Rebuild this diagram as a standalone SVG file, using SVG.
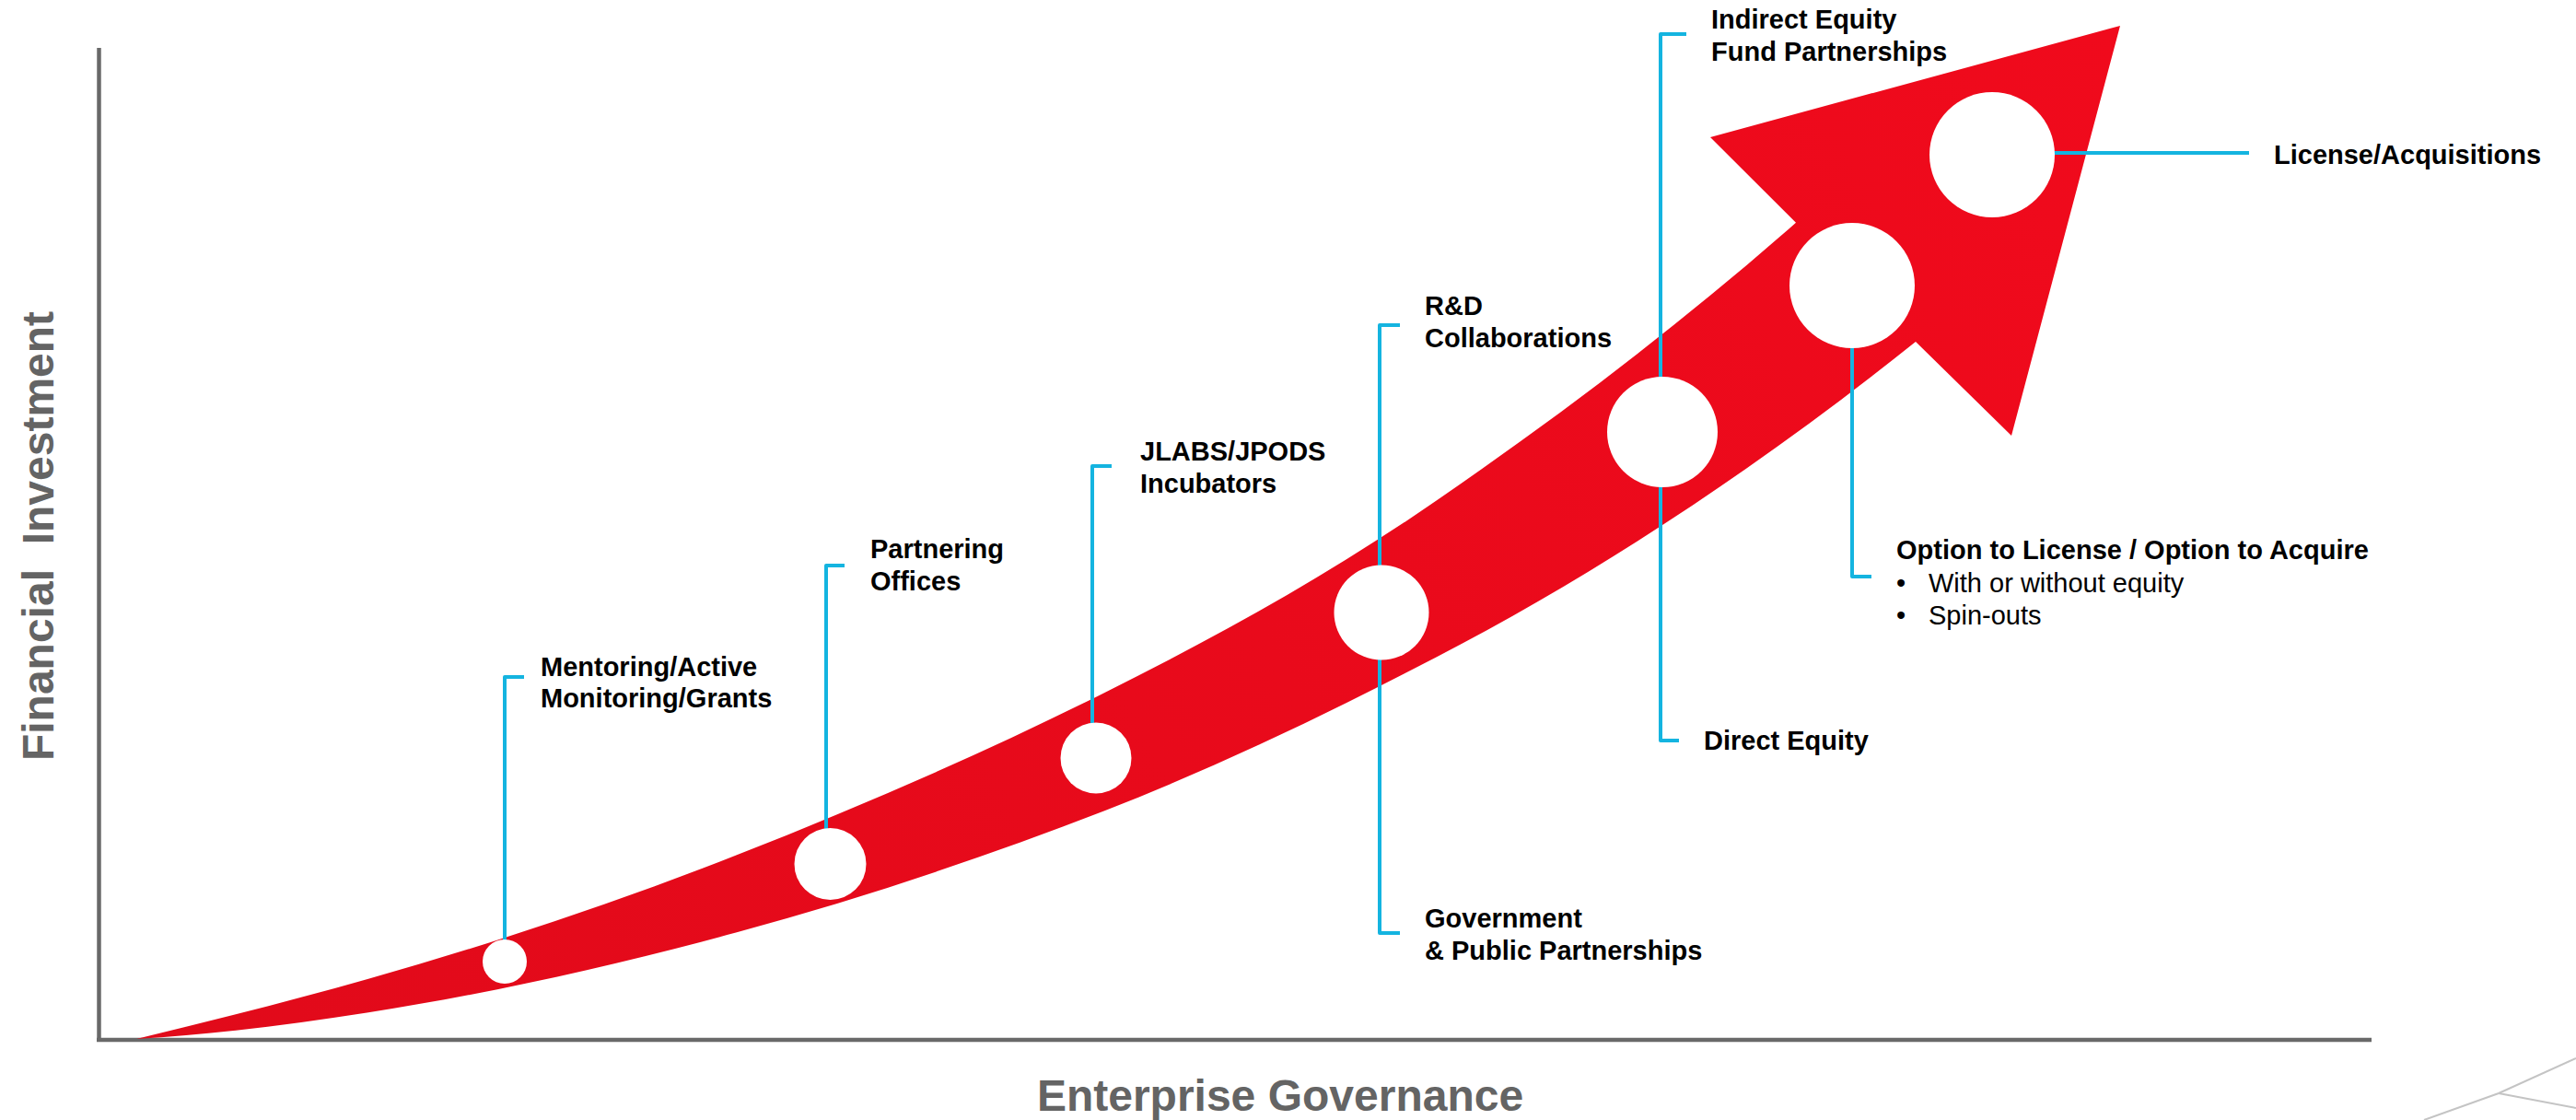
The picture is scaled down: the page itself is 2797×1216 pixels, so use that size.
<svg xmlns="http://www.w3.org/2000/svg" width="2797" height="1216" viewBox="0 0 2797 1216">
<defs>
<linearGradient id="redGrad" gradientUnits="userSpaceOnUse" x1="148" y1="1128" x2="2302" y2="28">
<stop offset="0" stop-color="#e10a1a"/>
<stop offset="1" stop-color="#f00a1c"/>
</linearGradient>
<style>
.lbl{font-family:"Liberation Sans",Arial,sans-serif;font-size:29px;font-weight:bold;fill:#000}
.reg{font-family:"Liberation Sans",Arial,sans-serif;font-size:29px;font-weight:normal;fill:#000}
.axt{font-family:"Liberation Sans",Arial,sans-serif;font-size:48px;font-weight:bold;fill:#646464}
.axis{stroke:#696969;stroke-width:4.5;fill:none}
.lead{stroke:#14b4e0;stroke-width:4;fill:none;stroke-linejoin:round;stroke-linecap:butt}
.dot{fill:#fff}
.deco{stroke:#c4c4c4;stroke-width:2;fill:none}
</style>
</defs>
<rect width="2797" height="1216" fill="#fff"/>
<g id="axes">
<line class="axis" x1="107.5" y1="52" x2="107.5" y2="1131"/>
<line class="axis" x1="105" y1="1129" x2="2575" y2="1129"/>
<text class="axt" xml:space="preserve" transform="translate(58,582) rotate(-90)" text-anchor="middle">Financial  Investment</text>
<text class="axt" x="1390" y="1206" text-anchor="middle">Enterprise Governance</text>
</g>
<g id="deco">
<polyline class="deco" points="2632,1216 2713,1187 2797,1149"/>
<line class="deco" x1="2713" y1="1187" x2="2797" y2="1203"/>
</g>
<g id="arrow">
<path fill="url(#redGrad)" d="M148,1128 C232,1107.8 316,1086.5 400,1062.7 C533.3,1025 666.7,980.6 800,928.3 C933.3,876 1066.7,818.4 1200,751.7 C1320,691.7 1440,626.1 1560,543.3 C1690,453.6 1820,356.1 1950,241.7 L1857,149 L2302,28 L2184,473 L2080,371 C1906.7,509.6 1733.3,623.2 1560,713.3 C1440,775.7 1320,833.4 1200,880 C1066.7,931.7 933.3,976 800,1012.3 C666.7,1048.6 533.3,1078.2 400,1099.3 C316,1112.6 232,1123 148,1128 Z"/>
</g>
<g id="connectors">
<path class="lead" d="M548,1030 V735 H569"/>
<path class="lead" d="M897,910 V614 H917"/>
<path class="lead" d="M1186,795 V506 H1207"/>
<path class="lead" d="M1498,625 V353 H1520"/>
<path class="lead" d="M1498,705 V1013 H1520"/>
<path class="lead" d="M1803,420 V37 H1831"/>
<path class="lead" d="M1803,515 V804 H1823"/>
<path class="lead" d="M2011,365 V626 H2032"/>
<path class="lead" d="M2220,166 H2442"/>
</g>
<g id="node-mentoring">
<circle class="dot" cx="548" cy="1044" r="24"/>
<text class="lbl" x="587" y="734">Mentoring/Active</text>
<text class="lbl" x="587" y="768">Monitoring/Grants</text>
</g>
<g id="node-partnering">
<circle class="dot" cx="901.5" cy="938" r="39"/>
<text class="lbl" x="945" y="606">Partnering</text>
<text class="lbl" x="945" y="641">Offices</text>
</g>
<g id="node-jlabs">
<circle class="dot" cx="1190" cy="823" r="38.5"/>
<text class="lbl" x="1238" y="500">JLABS/JPODS</text>
<text class="lbl" x="1238" y="535">Incubators</text>
</g>
<g id="node-rd-government">
<circle class="dot" cx="1500" cy="665" r="51.5"/>
<text class="lbl" x="1547" y="342">R&amp;D</text>
<text class="lbl" x="1547" y="377">Collaborations</text>
<text class="lbl" x="1547" y="1007">Government</text>
<text class="lbl" x="1547" y="1042">&amp; Public Partnerships</text>
</g>
<g id="node-equity">
<circle class="dot" cx="1805" cy="469" r="60"/>
<text class="lbl" x="1858" y="31">Indirect Equity</text>
<text class="lbl" x="1858" y="66">Fund Partnerships</text>
<text class="lbl" x="1850" y="814">Direct Equity</text>
</g>
<g id="node-option">
<circle class="dot" cx="2011" cy="310" r="68"/>
<text class="lbl" x="2059" y="607">Option to License / Option to Acquire</text>
<text class="reg" x="2059" y="643">•</text>
<text class="reg" x="2094" y="643">With or without equity</text>
<text class="reg" x="2059" y="678">•</text>
<text class="reg" x="2094" y="678">Spin-outs</text>
</g>
<g id="node-license">
<circle class="dot" cx="2163" cy="168" r="68"/>
<text class="lbl" x="2469" y="178">License/Acquisitions</text>
</g>
</svg>
